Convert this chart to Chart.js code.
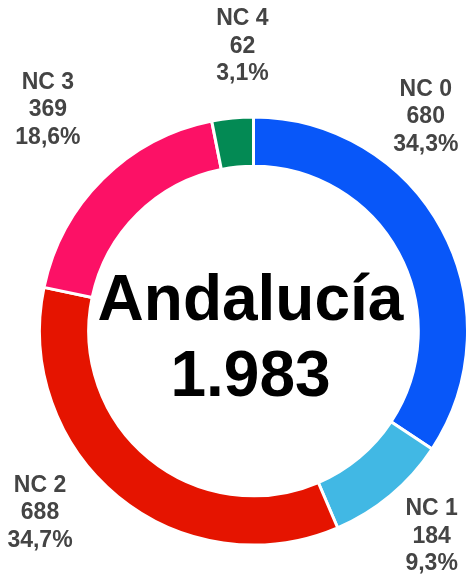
<!DOCTYPE html>
<html>
<head>
<meta charset="utf-8">
<script src="https://cdn.jsdelivr.net/npm/chart.js@4"></script>
<style>
  html, body { margin: 0; padding: 0; background: #fff; }
  #wrap { width: 469px; height: 577px; }
</style>
</head>
<body>
<div id="wrap"><canvas id="donut" width="469" height="577"></canvas></div>
<script>
// data
const regionName = 'Andalucía';
const categories = ['NC 0', 'NC 1', 'NC 2', 'NC 3', 'NC 4'];
const counts = [680, 184, 688, 369, 62];
const colors = ['#0857f9', '#41b8e4', '#e51400', '#fc1166', '#038a54'];

// label placement: angle shift (deg) from slice middle, radius factor
const labelShift = [-22.9, -1.1, 10.3, 1.8, 3.4];
const labelRadius = [1.284, 1.27, 1.31, 1.41, 1.33];

const total = counts.reduce((a, b) => a + b, 0);

function fmtThousands(n) {
  return String(n).replace(/\B(?=(\d{3})+(?!\d))/g, '.');
}
function fmtPct(v) {
  return (v * 100).toFixed(1).replace('.', ',') + '%';
}

const labelsPlugin = {
  id: 'outerLabels',
  afterDraw(chart) {
    const ctx = chart.ctx;
    const meta = chart.getDatasetMeta(0);
    ctx.save();
    ctx.fillStyle = '#444444';
    ctx.font = 'bold 23px "Liberation Sans", Arial, sans-serif';
    ctx.textAlign = 'center';
    ctx.textBaseline = 'middle';
    meta.data.forEach((arc, i) => {
      const p = arc.getProps(['x', 'y', 'startAngle', 'endAngle', 'outerRadius'], true);
      const mid = (p.startAngle + p.endAngle) / 2 + labelShift[i] * Math.PI / 180;
      const r = 215 * labelRadius[i] * (p.outerRadius / 215);
      const lx = p.x + Math.cos(mid) * r;
      const ly = p.y + Math.sin(mid) * r;
      const lines = [categories[i], String(counts[i]), fmtPct(counts[i] / total)];
      lines.forEach((t, k) => ctx.fillText(t, lx, ly + (k - 1) * 27.5));
    });

    // centre title
    const c = meta.data[0];
    ctx.fillStyle = '#000000';
    ctx.font = 'bold 64px "Liberation Sans", Arial, sans-serif';
    ctx.textBaseline = 'alphabetic';
    ctx.fillText(regionName, c.x - 3, c.y - 11);
    ctx.fillText(fmtThousands(total), c.x - 3, c.y + 65);
    ctx.restore();
  }
};

const ctx = document.getElementById('donut').getContext('2d');
new Chart(ctx, {
  type: 'doughnut',
  data: {
    labels: categories,
    datasets: [{
      data: counts,
      backgroundColor: colors,
      borderColor: '#ffffff',
      borderWidth: 3
    }]
  },
  options: {
    responsive: false,
    animation: false,
    cutout: '77%',
    layout: { padding: { left: 38, right: -3, top: 113, bottom: 28 } },
    plugins: {
      legend: { display: false },
      tooltip: { enabled: false }
    }
  },
  plugins: [labelsPlugin]
});
</script>
</body>
</html>
